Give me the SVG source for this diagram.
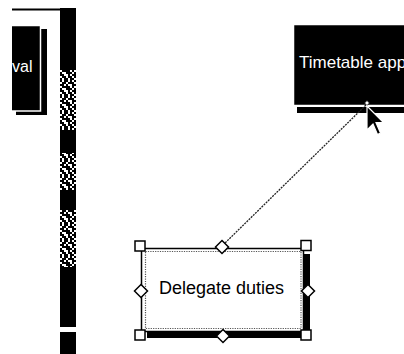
<svg xmlns="http://www.w3.org/2000/svg" width="404" height="354" viewBox="0 0 404 354">
<style>
.lbl{font-family:"Liberation Sans",Arial,sans-serif;}
.w{fill:#fff;}
.blk{fill:#000;}
.handle{fill:#fff;stroke:#000;stroke-width:1.5;}
</style>
<defs>
<pattern id="dither" x="60" y="0" width="16" height="16" patternUnits="userSpaceOnUse">
<rect width="16" height="16" fill="#fff"/>
<path fill="#000" d="M0 0h2v2h-2z M4 0h4v2h-4z M10 0h2v2h-2z M14 0h2v2h-2z M2 2h4v2h-4z M8 2h6v2h-6z M0 4h4v2h-4z M6 4h2v2h-2z M12 4h4v2h-4z M2 6h8v2h-8z M12 6h2v2h-2z M0 8h2v2h-2z M6 8h6v2h-6z M14 8h2v2h-2z M0 10h4v2h-4z M8 10h2v2h-2z M12 10h4v2h-4z M2 12h4v2h-4z M8 12h4v2h-4z M14 12h2v2h-2z M0 14h2v2h-2z M4 14h4v2h-4z M10 14h4v2h-4z"/>
</pattern>
<clipPath id="view"><rect x="12" y="0" width="392" height="354"/></clipPath>
</defs>
<rect width="404" height="354" fill="#fff"/>

<g id="frame">
<rect x="12" y="8.5" width="48" height="2" fill="#000"/>
<rect x="60" y="8" width="16" height="62" fill="#000"/>
<rect x="60" y="70" width="16" height="60" fill="url(#dither)"/>
<rect x="60" y="130" width="16" height="23" fill="#000"/>
<rect x="60" y="153" width="16" height="37" fill="url(#dither)"/>
<rect x="60" y="190" width="16" height="20" fill="#000"/>
<rect x="60" y="210" width="16" height="57" fill="url(#dither)"/>
<rect x="60" y="267" width="16" height="60" fill="#000"/>
<rect x="60" y="332" width="16" height="22" fill="#000"/>
</g>

<g id="node-approval" clip-path="url(#view)">
<rect x="16" y="29" width="31" height="86" class="blk"/>
<rect x="0" y="25.5" width="40.5" height="85.5" fill="#000" stroke="#fff" stroke-width="1.5"/>
<text x="12" y="72" class="lbl w" font-size="16">val</text>
</g>

<g id="node-timetable">
<rect x="297" y="107" width="110" height="6" class="blk"/>
<rect x="293.5" y="24.5" width="115" height="81" fill="#000" stroke="#fff" stroke-width="1.5"/>
<text x="299" y="68" class="lbl w" font-size="17">Timetable app</text>
</g>

<g id="connectors">
<line x1="223" y1="245" x2="367" y2="104" stroke="#222" stroke-width="1.3" stroke-dasharray="2,1"/>
<path d="M367 100.5 L369.5 103 L367 105.5 L364.5 103 Z" fill="#fff" stroke="#000" stroke-width="0.8"/>
</g>

<g id="node-delegate">
<rect x="147" y="254" width="163" height="84" class="blk"/>
<rect x="141.5" y="248.5" width="162" height="83" fill="#fff" stroke="#000" stroke-width="1.5"/>
<rect x="145.5" y="251.5" width="155.5" height="77" fill="none" stroke="#555" stroke-width="1.2" stroke-dasharray="1.2,1.2"/>
<text x="221.5" y="294" class="lbl" font-size="18" text-anchor="middle" fill="#000">Delegate duties</text>
<rect x="135" y="241" width="10" height="10" class="handle"/>
<rect x="301" y="240.5" width="10" height="10" class="handle"/>
<rect x="135" y="330" width="10" height="10" class="handle"/>
<rect x="301" y="330" width="10" height="10" class="handle"/>
<path d="M222 240.5 L228.5 247 L222 253.5 L215.5 247 Z" class="handle"/>
<path d="M141 284.5 L147.5 291 L141 297.5 L134.5 291 Z" class="handle"/>
<path d="M308 284.5 L314.5 291 L308 297.5 L301.5 291 Z" class="handle"/>
<path d="M223 329.5 L229.5 336 L223 342.5 L216.5 336 Z" class="handle"/>
</g>

<g id="cursor">
<path d="M367 106 L367 130 L373 124 L377.5 134.5 L380.5 133 L376 122.5 L383.5 122.5 Z" fill="#000" stroke="#fff" stroke-width="1.2" stroke-linejoin="miter"/>
</g>
</svg>
